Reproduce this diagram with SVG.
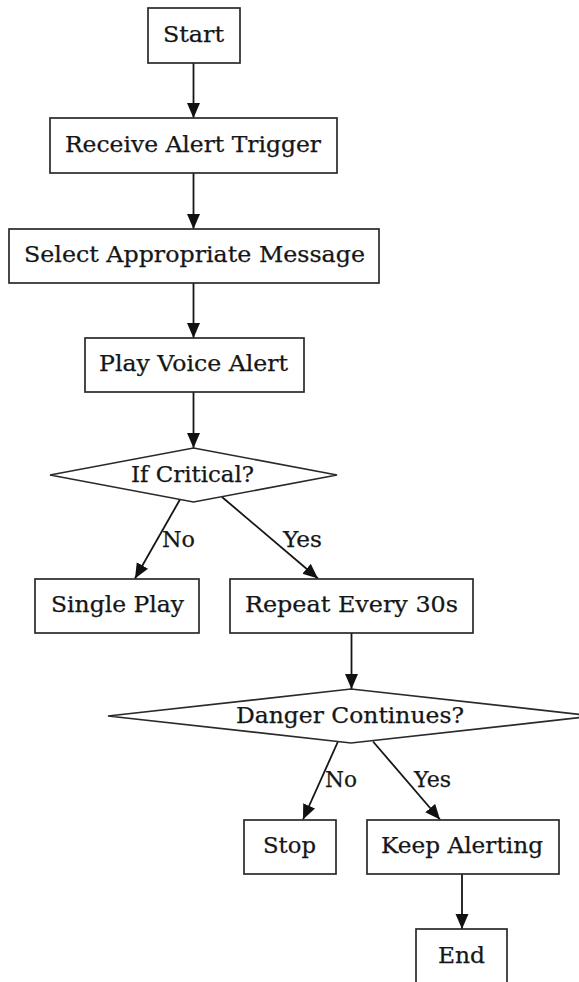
<svg xmlns="http://www.w3.org/2000/svg" width="579" height="982" viewBox="0 0 579 982">
<style>
.n{fill:#fff;stroke:#2a2a2a;stroke-width:1.7}
.t{font-family:"DejaVu Serif","Liberation Serif",serif;font-size:21.4px;fill:#161616;stroke:#161616;stroke-width:0.25;text-anchor:middle}
.l{font-family:"DejaVu Serif","Liberation Serif",serif;font-size:21.4px;fill:#161616;stroke:#161616;stroke-width:0.25;text-anchor:start}
.e{fill:none;stroke:#161616;stroke-width:1.8}
</style>
<defs>
<marker id="ah" markerUnits="userSpaceOnUse" markerWidth="17" markerHeight="14" refX="15" refY="6.5" orient="auto">
<path d="M0,0 L15,6.5 L0,13 z" fill="#111"/>
</marker>
</defs>
<rect width="579" height="982" fill="#fff"/>
<g id="edges">
<line class="e" x1="193.5" y1="63" x2="193.5" y2="118" marker-end="url(#ah)"/>
<line class="e" x1="193.5" y1="173" x2="193.5" y2="229" marker-end="url(#ah)"/>
<line class="e" x1="193.5" y1="283" x2="193.5" y2="338" marker-end="url(#ah)"/>
<line class="e" x1="193.5" y1="392" x2="193.5" y2="448" marker-end="url(#ah)"/>
<line class="e" x1="180" y1="499.5" x2="135" y2="578.5" marker-end="url(#ah)"/>
<line class="e" x1="222" y1="497" x2="318" y2="578.5" marker-end="url(#ah)"/>
<line class="e" x1="351.5" y1="633" x2="351.5" y2="689" marker-end="url(#ah)"/>
<line class="e" x1="338" y1="741.5" x2="303" y2="819.5" marker-end="url(#ah)"/>
<line class="e" x1="373" y1="741.5" x2="440" y2="819.5" marker-end="url(#ah)"/>
<line class="e" x1="462" y1="874" x2="462" y2="929" marker-end="url(#ah)"/>
<text class="l" x="162" y="547" textLength="33" lengthAdjust="spacingAndGlyphs">No</text>
<text class="l" x="283" y="547" textLength="39" lengthAdjust="spacingAndGlyphs">Yes</text>
<text class="l" x="325" y="787" textLength="32" lengthAdjust="spacingAndGlyphs">No</text>
<text class="l" x="414" y="787" textLength="37" lengthAdjust="spacingAndGlyphs">Yes</text>
</g>
<g id="start">
<rect class="n" x="148" y="8" width="92" height="55"/>
<text class="t" x="193.5" y="41.8" textLength="61" lengthAdjust="spacingAndGlyphs">Start</text>
</g>
<g id="receive">
<rect class="n" x="50" y="118" width="287" height="55"/>
<text class="t" x="193" y="151.8" textLength="256" lengthAdjust="spacingAndGlyphs">Receive Alert Trigger</text>
</g>
<g id="select">
<rect class="n" x="9" y="229" width="370" height="54"/>
<text class="t" x="194.5" y="262.3" textLength="341" lengthAdjust="spacingAndGlyphs">Select Appropriate Message</text>
</g>
<g id="play">
<rect class="n" x="85" y="338" width="219" height="54"/>
<text class="t" x="193.5" y="371.3" textLength="189" lengthAdjust="spacingAndGlyphs">Play Voice Alert</text>
</g>
<g id="critical">
<polygon class="n" points="193.5,448 337,475 193.5,502 50,475"/>
<text class="t" x="192.5" y="481.5" textLength="123" lengthAdjust="spacingAndGlyphs">If Critical?</text>
</g>
<g id="single">
<rect class="n" x="35" y="579" width="164" height="54"/>
<text class="t" x="117.5" y="612.3" textLength="133" lengthAdjust="spacingAndGlyphs">Single Play</text>
</g>
<g id="repeat">
<rect class="n" x="230" y="579" width="243" height="54"/>
<text class="t" x="351.5" y="612.3" textLength="213" lengthAdjust="spacingAndGlyphs">Repeat Every 30s</text>
</g>
<g id="danger">
<polygon class="n" points="351,689 594,716 351,743 108,716"/>
<text class="t" x="350" y="722.5" textLength="228" lengthAdjust="spacingAndGlyphs">Danger Continues?</text>
</g>
<g id="stop">
<rect class="n" x="244" y="820" width="92" height="54"/>
<text class="t" x="289.5" y="853.3" textLength="53" lengthAdjust="spacingAndGlyphs">Stop</text>
</g>
<g id="keep">
<rect class="n" x="367" y="820" width="192" height="54"/>
<text class="t" x="462" y="853.3" textLength="162" lengthAdjust="spacingAndGlyphs">Keep Alerting</text>
</g>
<g id="end">
<rect class="n" x="416" y="929" width="91" height="55"/>
<text class="t" x="461.5" y="962.5" textLength="47" lengthAdjust="spacingAndGlyphs">End</text>
</g>
</svg>
